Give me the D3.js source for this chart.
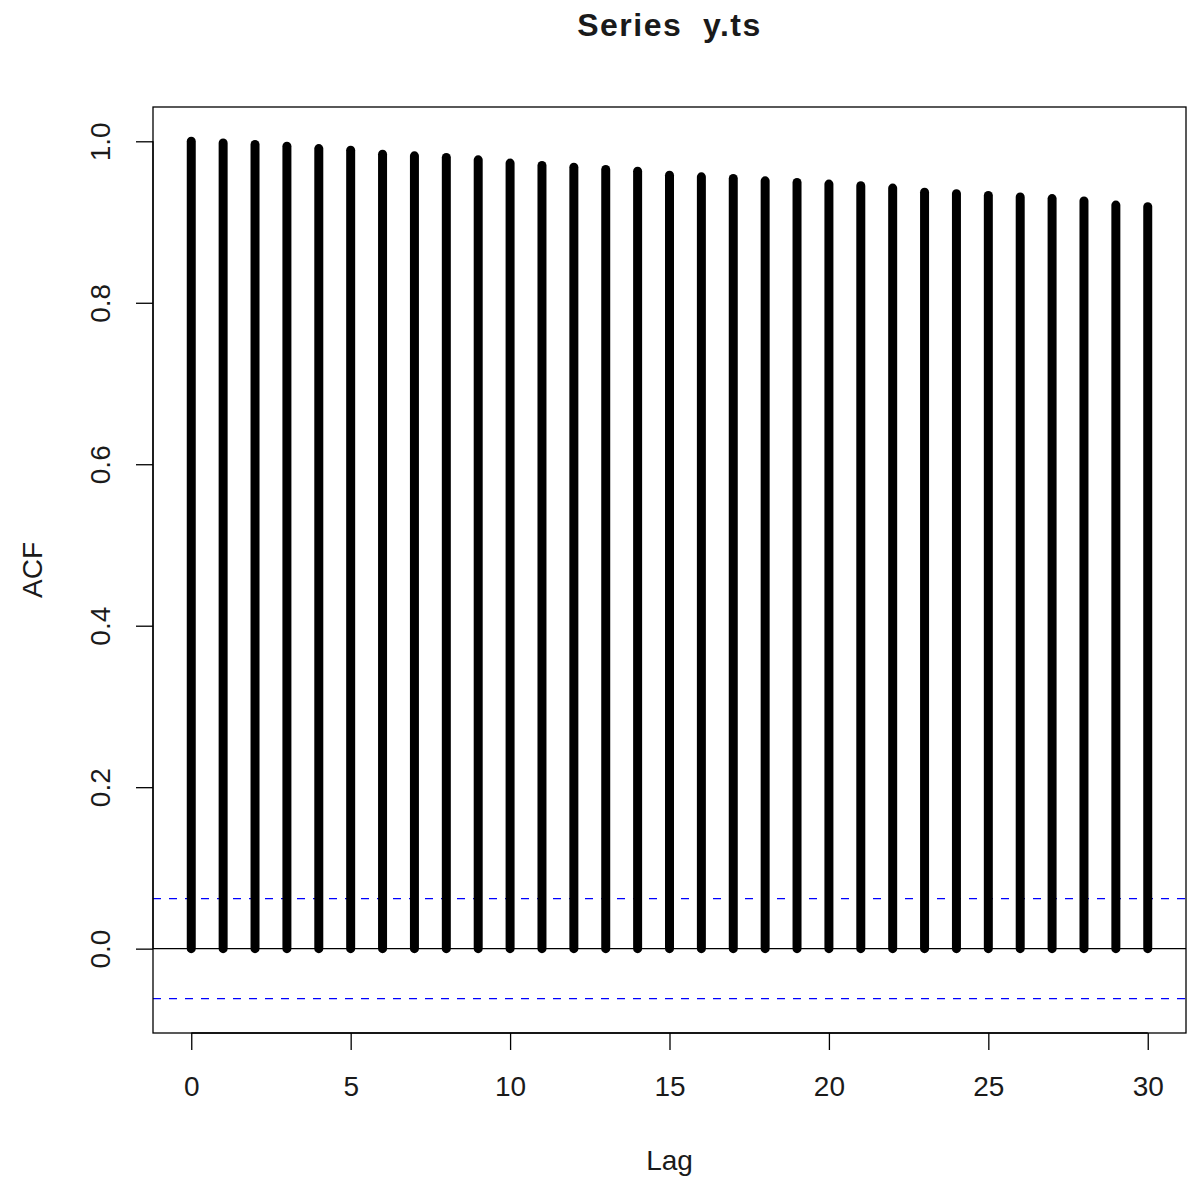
<!DOCTYPE html>
<html>
<head>
<meta charset="utf-8">
<script src="https://cdn.jsdelivr.net/npm/d3@7"></script>
<style>
  html, body { margin: 0; padding: 0; background: #fff; }
  svg { display: block; }
  text { font-family: "Liberation Sans", Arial, sans-serif; fill: #1a1a1a; }
</style>
</head>
<body>
<svg id="chart" width="1187" height="1178"></svg>
<script>
// Autocorrelation of y.ts, lags 0..30
const lags = d3.range(0, 31);
const acfValues = [
  1.000, 0.998, 0.996, 0.994, 0.991, 0.989, 0.984, 0.982, 0.980, 0.977,
  0.973, 0.970, 0.968, 0.965, 0.963, 0.958, 0.956, 0.954, 0.951, 0.949,
  0.947, 0.945, 0.942, 0.937, 0.935, 0.933, 0.931, 0.929, 0.926, 0.921,
  0.919
];
const confLimit = 0.062;          // +/- 1.96/sqrt(n)
const xTicks = [0, 5, 10, 15, 20, 25, 30];
const yTicks = [0.0, 0.2, 0.4, 0.6, 0.8, 1.0];
const titleText = "Series  y.ts";
const xLabel = "Lag";
const yLabel = "ACF";

const svg = d3.select("#chart");
const plot = { left: 153, right: 1186, top: 107, bottom: 1033 };
const fontSize = 28;

// R-style 4% padding around the data range
const xr = [0, 30], yr = [-confLimit, 1.0];
const xpad = (xr[1] - xr[0]) * 0.04, ypad = (yr[1] - yr[0]) * 0.04;
const x = d3.scaleLinear().domain([xr[0] - xpad, xr[1] + xpad]).range([plot.left, plot.right]);
const y = d3.scaleLinear().domain([yr[0] - ypad, yr[1] + ypad]).range([plot.bottom, plot.top]);

// confidence bounds
[confLimit, -confLimit].forEach(v => {
  svg.append("line")
    .attr("x1", plot.left).attr("x2", plot.right)
    .attr("y1", y(v)).attr("y2", y(v))
    .attr("stroke", "#0000ff").attr("stroke-width", 1.3)
    .attr("stroke-dasharray", "8,8");
});

// zero line
svg.append("line")
  .attr("x1", plot.left).attr("x2", plot.right)
  .attr("y1", y(0)).attr("y2", y(0))
  .attr("stroke", "#000").attr("stroke-width", 1.3);

// ACF spikes
svg.append("g").selectAll("line")
  .data(lags)
  .join("line")
  .attr("x1", d => x(d)).attr("x2", d => x(d))
  .attr("y1", y(0)).attr("y2", d => y(acfValues[d]))
  .attr("stroke", "#000").attr("stroke-width", 9)
  .attr("stroke-linecap", "round");

// plot frame
svg.append("rect")
  .attr("x", plot.left).attr("y", plot.top)
  .attr("width", plot.right - plot.left).attr("height", plot.bottom - plot.top)
  .attr("fill", "none").attr("stroke", "#000").attr("stroke-width", 1.3);

// x axis
const xAxis = d3.axisBottom(x).tickValues(xTicks).tickSize(17).tickPadding(26)
  .tickFormat(d3.format("d"));
const gx = svg.append("g").attr("transform", `translate(0,${plot.bottom})`).call(xAxis);
gx.select(".domain").attr("d", `M${x(xTicks[0])},0H${x(xTicks[xTicks.length - 1])}`)
  .attr("stroke", "#000").attr("stroke-width", 1.3);
gx.selectAll(".tick line").attr("stroke", "#000").attr("stroke-width", 1.3);
gx.selectAll(".tick text")
  .attr("font-size", fontSize).attr("font-family", "Liberation Sans, Arial, sans-serif")
  .attr("fill", "#1a1a1a").attr("dy", "0.71em");

// y axis (labels rotated parallel to the axis)
const yAxis = d3.axisLeft(y).tickValues(yTicks).tickSize(17).tickFormat(d3.format(".1f"));
const gy = svg.append("g").attr("transform", `translate(${plot.left},0)`).call(yAxis);
gy.select(".domain").attr("d", `M0,${y(yTicks[0])}V${y(yTicks[yTicks.length - 1])}`)
  .attr("stroke", "#000").attr("stroke-width", 1.3);
gy.selectAll(".tick line").attr("stroke", "#000").attr("stroke-width", 1.3);
gy.selectAll(".tick text")
  .attr("font-size", fontSize).attr("font-family", "Liberation Sans, Arial, sans-serif")
  .attr("fill", "#1a1a1a")
  .attr("x", null).attr("dy", null)
  .attr("text-anchor", "middle")
  .attr("transform", "translate(-53,0) rotate(-90)")
  .attr("y", 10);

// title and axis labels
svg.append("text")
  .attr("x", (plot.left + plot.right) / 2).attr("y", 36)
  .attr("text-anchor", "middle").attr("font-size", 32).attr("font-weight", "bold")
  .attr("letter-spacing", 1.5)
  .style("white-space", "pre")
  .text(titleText);

svg.append("text")
  .attr("x", (plot.left + plot.right) / 2).attr("y", 1170)
  .attr("text-anchor", "middle").attr("font-size", fontSize)
  .text(xLabel);

svg.append("text")
  .attr("transform", `translate(42,${(plot.top + plot.bottom) / 2}) rotate(-90)`)
  .attr("text-anchor", "middle").attr("font-size", fontSize)
  .text(yLabel);
</script>
</body>
</html>
